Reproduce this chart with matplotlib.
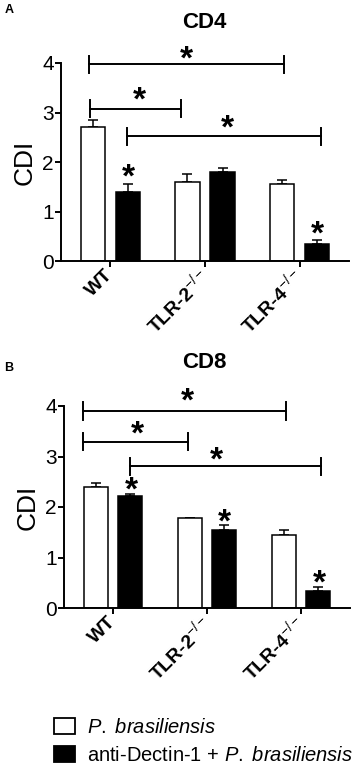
import numpy as np
import matplotlib
matplotlib.use('Agg')
import matplotlib.pyplot as plt
from matplotlib.patches import Patch
from matplotlib.transforms import offset_copy

plt.rcParams['font.family'] = 'Liberation Sans'
plt.rcParams['mathtext.fontset'] = 'custom'
plt.rcParams['mathtext.rm'] = 'Liberation Sans'
plt.rcParams['mathtext.it'] = 'Liberation Sans:italic'
plt.rcParams['mathtext.bf'] = 'Liberation Sans:bold'

# data
groups = ['WT', 'TLR-2$^{-/-}$', 'TLR-4$^{-/-}$']

cd4_pb = [2.70, 1.59, 1.55]
cd4_pb_err = [0.14, 0.16, 0.08]
cd4_dec = [1.39, 1.79, 0.34]
cd4_dec_err = [0.16, 0.08, 0.08]

cd8_pb = [2.40, 1.78, 1.44]
cd8_pb_err = [0.08, 0.01, 0.11]
cd8_dec = [2.21, 1.54, 0.33]
cd8_dec_err = [0.05, 0.10, 0.08]

# significance brackets: (x start, x end, y, star x, star y)
cd4_brackets = [(-0.22, 1.83, 3.97, 0.80, 4.20),
                (-0.21, 0.75, 3.08, 0.31, 3.37),
                (0.18, 2.22, 2.52, 1.24, 2.80)]
cd4_stars = [(0.19, 1.81), (2.19, 0.66)]

cd8_brackets = [(-0.32, 1.84, 3.90, 0.79, 4.20),
                (-0.32, 0.80, 3.29, 0.26, 3.56),
                (0.18, 2.21, 2.81, 1.10, 3.03)]
cd8_stars = [(0.20, 2.44), (1.19, 1.82), (2.19, 0.61)]

W, H = 356, 767
fig = plt.figure(figsize=(W / 100, H / 100), dpi=100)

lw = 1.4
off = 0.185
bw = 0.255
star_fs = 24


def star(ax, x, y):
    # put the centre of the asterisk glyph on (x, y)
    tr = offset_copy(ax.transData, fig=fig, y=-0.45 * star_fs, units='points')
    ax.text(x, y, '*', ha='center', va='baseline', fontsize=star_fs, fontweight='bold',
            transform=tr, clip_on=False)


def panel(rect, pb, pb_err, dec, dec_err, brackets, stars, title, letter, title_y, letter_y):
    ax = fig.add_axes([rect[0] / W, 1 - rect[3] / H, (rect[1] - rect[0]) / W, (rect[3] - rect[2]) / H])
    x = np.arange(len(groups))
    ax.bar(x - off, pb, bw, color='white', edgecolor='black', linewidth=1.1, zorder=2)
    ax.bar(x + off, dec, bw, color='black', edgecolor='black', linewidth=1.1, zorder=2)
    ax.errorbar(x - off, pb, yerr=[np.zeros(3), pb_err], fmt='none', ecolor='black',
                elinewidth=1.1, capsize=3.6, capthick=1.1, zorder=1)
    ax.errorbar(x + off, dec, yerr=[np.zeros(3), dec_err], fmt='none', ecolor='black',
                elinewidth=1.1, capsize=3.6, capthick=1.1, zorder=1)
    ax.set_xlim(-0.52, 2.52)
    ax.set_ylim(0, 4)
    ax.set_yticks([0, 1, 2, 3, 4])
    ax.set_xticks(x)
    ax.set_xticklabels(groups, rotation=45, ha='right', va='center', rotation_mode='anchor',
                       fontsize=14, fontweight='bold')
    ax.tick_params(axis='y', labelsize=15, length=4.3, width=lw, pad=1)
    ax.tick_params(axis='x', length=4.3, width=lw, pad=4)
    for s in ['top', 'right']:
        ax.spines[s].set_visible(False)
    for s in ['left', 'bottom']:
        ax.spines[s].set_linewidth(lw)
    ax.set_ylabel('CDI', fontsize=19, labelpad=4)
    d = 0.17
    for x0, x1, y, sx, sy in brackets:
        ax.plot([x0, x1], [y, y], color='black', lw=lw, clip_on=False)
        ax.plot([x0, x0], [y - d, y + d], color='black', lw=lw, clip_on=False)
        ax.plot([x1, x1], [y - d, y + d], color='black', lw=lw, clip_on=False)
        star(ax, sx, sy)
    for sx, sy in stars:
        star(ax, sx, sy)
    fig.text(204 / W, 1 - title_y / H, title, ha='center', va='center', fontsize=16, fontweight='bold')
    fig.text(9 / W, 1 - letter_y / H, letter, ha='center', va='center', fontsize=9, fontweight='bold')
    return ax


panel((61, 349, 63, 261), cd4_pb, cd4_pb_err, cd4_dec, cd4_dec_err, cd4_brackets, cd4_stars, 'CD4', 'A', 22, 10)
panel((64, 350, 406, 608), cd8_pb, cd8_pb_err, cd8_dec, cd8_dec_err, cd8_brackets, cd8_stars, 'CD8', 'B', 362, 368)

handles = [Patch(facecolor='white', edgecolor='black', linewidth=1.3),
           Patch(facecolor='black', edgecolor='black', linewidth=1.3)]
labels = [r'$\it{P.}$ $\it{brasiliensis}$', r'anti-Dectin-1 + $\it{P.}$ $\it{brasiliensis}$']
fig.legend(handles, labels, loc='upper left', bbox_to_anchor=(54 / W, 1 - 718 / H), frameon=False,
           fontsize=14.5, handlelength=1.05, handleheight=0.8, handletextpad=0.6,
           labelspacing=0.45, borderpad=0, borderaxespad=0)

fig.savefig('out.png', dpi=100)
